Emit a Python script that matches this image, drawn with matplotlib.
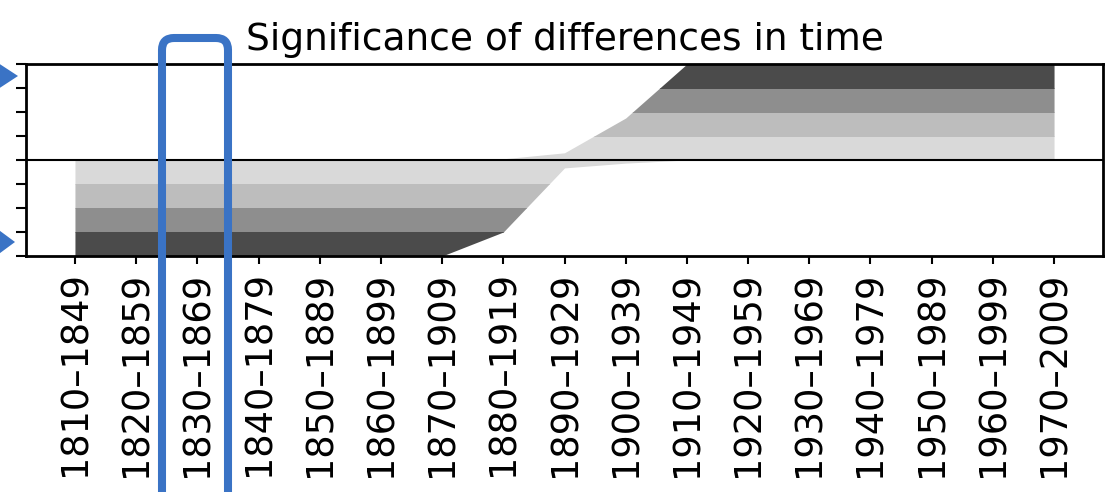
import matplotlib
matplotlib.use("Agg")
import matplotlib.pyplot as plt
import numpy as np
from matplotlib.patches import Rectangle, PathPatch, Polygon
from matplotlib.path import Path

# Forty-year windows, shifted by a decade
periods = ["1810–1849", "1820–1859", "1830–1869", "1840–1879", "1850–1889",
           "1860–1899", "1870–1909", "1880–1919", "1890–1929", "1900–1939",
           "1910–1949", "1920–1959", "1930–1969", "1940–1979", "1950–1989",
           "1960–1999", "1970–2009"]

# Significance level reached in each direction (0 = none, 4 = strongest)
upper_level = [0, 0, 0, 0, 0, 0, 0, 0.05, 0.3, 1.75, 4, 4, 4, 4, 4, 4, 4]
lower_level = [-4, -4, -4, -4, -4, -4, -4, -3.0, -0.33, -0.13, 0, 0, 0, 0, 0, 0, 0]

# Shade per band, from the centre outwards
band_colors = ["#d9d9d9", "#bdbdbd", "#8e8e8e", "#4b4b4b"]

W, H = 1109, 492
fig = plt.figure(figsize=(W / 100, H / 100), dpi=100)
ax = fig.add_axes([26 / W, 1 - 256 / H, (1103 - 26) / W, (256 - 64) / H])

x = np.arange(len(periods))
up = np.array(upper_level)
lo = np.array(lower_level)

for k, col in enumerate(band_colors, start=1):
    poly_up = ax.fill_between(x, 0, up, color=col, linewidth=0)
    poly_up.set_clip_path(Rectangle((-1, k - 1), 20, 1, transform=ax.transData))
    poly_lo = ax.fill_between(x, lo, 0, color=col, linewidth=0)
    poly_lo.set_clip_path(Rectangle((-1, -k), 20, 1, transform=ax.transData))

ax.axhline(0, color="black", linewidth=1.5)

ax.set_xlim(-0.8, len(periods) - 1 + 0.8)
ax.set_ylim(-4, 4)
ax.set_xticks(x)
ax.set_xticklabels(periods, rotation=90, fontsize=26.5)
ax.set_yticks(np.arange(-4, 5))
ax.set_yticklabels([])
ax.tick_params(axis="x", length=6, width=1.5, pad=5)
ax.tick_params(axis="y", length=7, width=1.5)
for s in ax.spines.values():
    s.set_linewidth(2.0)
ax.set_title("Significance of differences in time", fontsize=27, pad=10)

# Highlight markers drawn on the figure in pixel positions
blue = "#3a73c5"


def fp(px, py):
    return (px / W, 1 - py / H)


r = 12
left, right, top, bottom = 162, 228, 38, 500
verts = [fp(left, bottom), fp(left, top + r), fp(left, top), fp(left + r, top),
         fp(right - r, top), fp(right, top), fp(right, top + r), fp(right, bottom)]
codes = [Path.MOVETO, Path.LINETO, Path.CURVE3, Path.CURVE3,
         Path.LINETO, Path.CURVE3, Path.CURVE3, Path.LINETO]
frame = PathPatch(Path(verts, codes), facecolor="none", edgecolor=blue,
                  linewidth=5.8, transform=fig.transFigure, capstyle="butt",
                  joinstyle="round")
fig.add_artist(frame)

for tip_y, tip_x in [(76, 18), (242, 15)]:
    tri = Polygon([fp(-8, tip_y - 17), fp(tip_x, tip_y), fp(-8, tip_y + 17)],
                  closed=True, facecolor=blue, edgecolor="none",
                  transform=fig.transFigure)
    fig.add_artist(tri)

fig.savefig("out.png", dpi=100)
